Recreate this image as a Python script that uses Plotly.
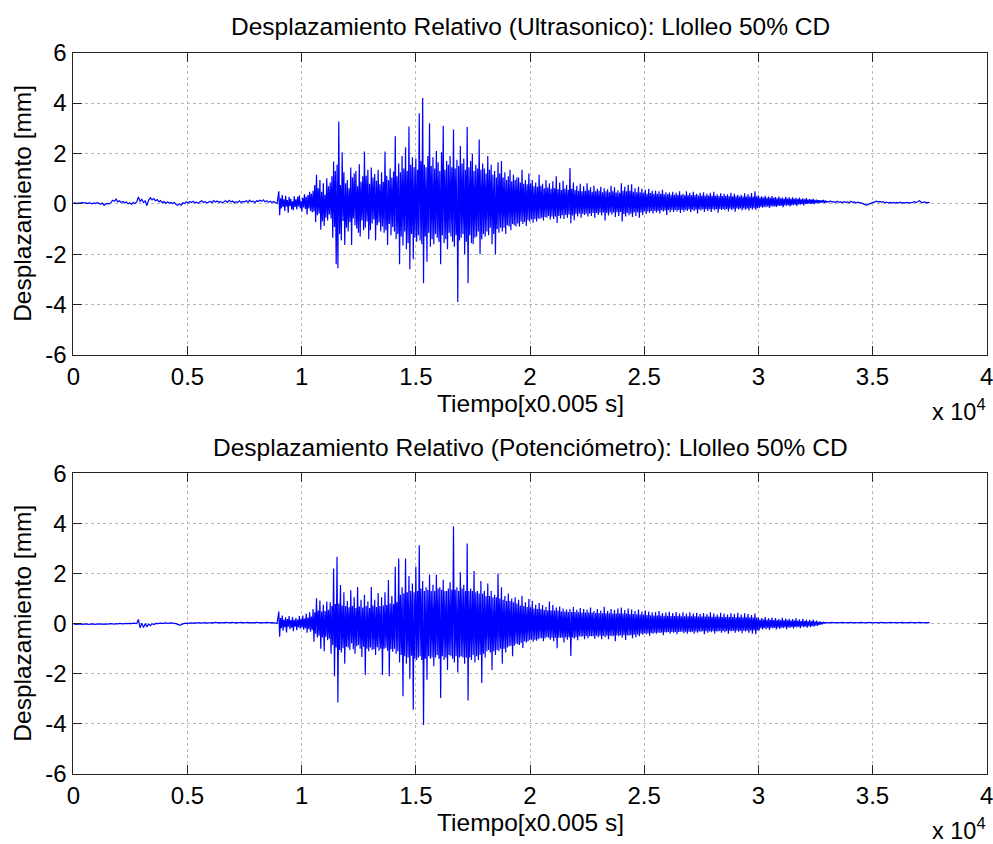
import numpy as np
import plotly.graph_objects as go

# Storage rates: quiet parts every 75 samples, strong-motion window every 37.5 samples
STEP_QUIET = 75
STEP_EVENT = 37.5
EVENT_START = 9000     # sample where the strong-motion window begins
POST_START = 33000     # sample where the quiet tail begins

# ---------------- Ultrasonic sensor: relative displacement [mm] ----------------
ultra_pre = [
    0.02, 0.05, 0.00, 0.04, 0.02, 0.06, 0.03, 0.05, 0.01, 0.04,
    0.03, 0.00, 0.04, 0.01, 0.05, 0.02, -0.02, 0.03, -0.06, -0.01,
    0.02, 0.00, 0.06, 0.14, 0.10, 0.19, 0.08, 0.12, 0.05, 0.09,
    0.04, 0.07, 0.00, 0.04, -0.02, 0.05, 0.01, 0.08, 0.27, 0.10,
    0.18, 0.05, 0.12, -0.07, 0.15, 0.24, 0.16, 0.21, 0.12, 0.17,
    0.08, 0.13, 0.04, 0.09, 0.02, 0.07, 0.03, 0.06, 0.01, 0.05,
    -0.03, -0.06, 0.00, -0.05, 0.04, 0.01, 0.08, 0.03, 0.09, 0.05,
    0.10, 0.04, 0.07, 0.02, 0.08, 0.12, 0.05, 0.09, 0.03, 0.07,
    0.10, 0.05, 0.13, 0.07, 0.11, 0.06, 0.09, 0.04, 0.08, 0.12,
    0.06, 0.14, 0.08, 0.11, 0.04, 0.09, 0.06, 0.12, 0.05, 0.10,
    0.07, 0.13, 0.06, 0.15, 0.08, 0.11, 0.05, 0.12, 0.09, 0.14,
    0.10, 0.16, 0.08, 0.12, 0.06, 0.10, 0.05, 0.09, 0.04, 0.02,
]
ultra_event = [
    0.50, -0.45, 0.22, -0.18, 0.35, -0.12, 0.18, -0.28, 0.32, -0.10, 0.15, -0.35, 0.28, -0.08, 0.20, -0.22, 0.10, -0.25, 0.30, -0.12,
    0.18, -0.22, 0.28, -0.10, 0.34, -0.18, 0.12, -0.30, 0.24, -0.14, 0.38, -0.20, 0.28, -0.42, 0.35, -0.18, 0.48, -0.28, 0.40, -0.34,
    0.52, -0.30, 0.75, -0.72, 1.15, -0.45, 0.62, -0.38, 0.95, -1.03, 0.48, -0.70, 0.82, -0.88, 0.36, -0.55, 1.02, -0.66, 0.70, -0.42,
    0.85, -0.58, 1.10, -1.35, 1.68, -0.92, 1.30, -2.40, 1.55, -2.56, 3.27, -1.20, 0.75, -1.45, 2.05, -0.68, 1.25, -1.63, 0.82, -0.95,
    0.95, -1.10, 0.62, -0.72, 1.44, -1.63, 1.05, -0.58, 1.20, -0.85, 1.30, -0.98, 0.70, -1.15, 1.57, -1.30, 0.88, -0.66, 1.10, -1.05,
    2.08, -0.95, 1.12, -0.70, 1.35, -1.40, 0.80, -1.05, 1.44, -0.78, 1.05, -0.62, 1.18, -1.45, 0.92, -0.85, 1.35, -0.74, 0.78, -1.10,
    1.25, -0.90, 0.88, -1.15, 2.08, -1.05, 1.12, -1.63, 0.95, -0.80, 1.40, -1.25, 1.05, -0.92, 1.28, -1.10, 2.68, -1.40, 1.10, -1.20,
    1.60, -2.40, 1.25, -1.30, 1.90, -1.65, 1.40, -1.10, 2.25, -1.80, 1.30, -1.55, 3.07, -2.60, 1.55, -1.20, 1.85, -2.20, 1.45, -1.35,
    1.80, -1.50, 1.35, -1.25, 3.60, -1.45, 1.70, -1.60, 4.20, -3.15, 1.55, -1.30, 1.45, -2.30, 1.90, -1.15, 3.20, -1.70, 1.50, -1.40,
    1.85, -1.60, 1.40, -1.20, 2.10, -1.35, 1.65, -1.50, 1.30, -2.40, 2.05, -1.25, 3.10, -1.55, 1.35, -1.40, 1.70, -1.80, 1.55, -1.15,
    1.90, -1.30, 1.45, -1.50, 2.95, -1.70, 1.40, -1.25, 1.75, -3.90, 1.50, -1.45, 2.30, -1.35, 1.60, -1.20, 1.80, -2.00, 1.35, -1.50,
    3.05, -3.15, 1.45, -1.25, 1.70, -1.55, 2.00, -1.60, 1.30, -1.35, 1.55, -1.30, 1.40, -1.10, 2.55, -2.00, 1.35, -1.40, 1.60, -1.20,
    1.40, -1.30, 1.20, -1.10, 1.90, -1.25, 1.35, -0.95, 1.55, -1.60, 1.15, -1.20, 1.30, -2.00, 1.05, -1.00, 1.65, -1.15, 1.20, -0.95,
    1.70, -1.10, 1.05, -0.95, 1.25, -1.20, 0.95, -0.85, 1.10, -0.90, 1.35, -1.05, 0.90, -0.80, 1.15, -0.85, 0.95, -0.90, 1.05, -0.78,
    1.05, -0.90, 0.85, -0.70, 1.35, -0.80, 0.80, -0.72, 0.95, -0.88, 0.78, -0.65, 1.20, -0.70, 0.82, -0.62, 0.95, -0.75, 0.70, -0.60,
    0.85, -0.70, 0.68, -0.58, 1.15, -0.60, 0.72, -0.55, 0.80, -0.66, 0.62, -0.52, 0.95, -0.55, 0.65, -0.48, 0.82, -0.62, 0.60, -0.50,
    0.90, -0.60, 0.62, -0.50, 1.10, -0.76, 0.58, -0.48, 0.85, -0.58, 0.55, -0.45, 0.92, -0.60, 0.60, -0.44, 0.75, -0.55, 0.56, -0.42,
    1.42, -0.77, 0.60, -0.46, 0.85, -0.65, 0.55, -0.40, 0.72, -0.50, 0.52, -0.38, 0.80, -0.55, 0.50, -0.40, 0.70, -0.44, 0.52, -0.38,
    0.82, -0.50, 0.55, -0.38, 0.66, -0.48, 0.48, -0.36, 0.72, -0.55, 0.50, -0.36, 0.60, -0.44, 0.52, -0.35, 0.68, -0.46, 0.46, -0.34,
    0.62, -0.66, 0.50, -0.36, 0.58, -0.46, 0.46, -0.34, 0.72, -0.42, 0.50, -0.34, 0.66, -0.52, 0.45, -0.33, 0.54, -0.48, 0.44, -0.32,
    0.82, -0.70, 0.52, -0.40, 0.68, -0.50, 0.50, -0.36, 0.76, -0.45, 0.52, -0.38, 0.78, -0.52, 0.48, -0.34, 0.62, -0.48, 0.46, -0.33,
    0.68, -0.55, 0.46, -0.34, 0.60, -0.44, 0.44, -0.30, 0.56, -0.40, 0.40, -0.30, 0.60, -0.35, 0.43, -0.28, 0.52, -0.38, 0.40, -0.28,
    0.52, -0.34, 0.40, -0.28, 0.50, -0.38, 0.40, -0.25, 0.56, -0.30, 0.38, -0.26, 0.46, -0.44, 0.38, -0.24, 0.45, -0.33, 0.36, -0.24,
    0.48, -0.32, 0.36, -0.24, 0.44, -0.30, 0.36, -0.24, 0.50, -0.36, 0.35, -0.24, 0.40, -0.31, 0.34, -0.23, 0.50, -0.28, 0.35, -0.22,
    0.44, -0.32, 0.34, -0.23, 0.48, -0.28, 0.35, -0.22, 0.40, -0.38, 0.33, -0.22, 0.44, -0.26, 0.33, -0.21, 0.46, -0.32, 0.32, -0.21,
    0.40, -0.28, 0.33, -0.21, 0.44, -0.32, 0.32, -0.21, 0.48, -0.25, 0.32, -0.20, 0.38, -0.35, 0.31, -0.20, 0.42, -0.24, 0.31, -0.20,
    0.40, -0.25, 0.31, -0.20, 0.38, -0.30, 0.30, -0.19, 0.44, -0.24, 0.30, -0.19, 0.40, -0.31, 0.30, -0.18, 0.36, -0.22, 0.29, -0.18,
    0.36, -0.26, 0.29, -0.18, 0.42, -0.23, 0.29, -0.18, 0.38, -0.26, 0.29, -0.17, 0.43, -0.22, 0.28, -0.17, 0.50, -0.24, 0.30, -0.17,
    0.34, -0.17, 0.26, -0.12, 0.30, -0.15, 0.25, -0.11, 0.32, -0.13, 0.25, -0.10, 0.29, -0.16, 0.24, -0.09, 0.31, -0.11, 0.24, -0.09,
    0.27, -0.12, 0.22, -0.08, 0.29, -0.08, 0.22, -0.07, 0.25, -0.13, 0.21, -0.06, 0.28, -0.07, 0.21, -0.05, 0.26, -0.10, 0.20, -0.05,
    0.26, -0.05, 0.20, -0.03, 0.24, -0.08, 0.19, -0.02, 0.25, -0.03, 0.18, -0.01, 0.22, -0.06, 0.18, 0.00, 0.23, 0.00, 0.17, 0.01,
    0.19, 0.00, 0.17, 0.02, 0.20, -0.01, 0.16, 0.03, 0.17, 0.02, 0.15, 0.04, 0.15, 0.04, 0.14, 0.05, 0.16, 0.03, 0.13, 0.05,
]
ultra_post = [
    0.10, 0.06, 0.11, 0.07, 0.09, 0.05, 0.10, 0.06, 0.08, 0.05,
    0.09, 0.06, 0.08, 0.04, 0.10, 0.06, 0.08, 0.03, 0.07, 0.05,
    0.04, 0.01, -0.02, -0.05, -0.03, 0.00, 0.03, 0.06, 0.08, 0.11,
    0.07, 0.10, 0.06, 0.09, 0.04, 0.07, 0.03, 0.06, 0.04, 0.06,
    0.03, 0.06, 0.04, 0.07, 0.03, 0.05, 0.04, 0.06, 0.03, 0.05,
    0.06, 0.09, 0.05, 0.08, 0.12, 0.07, 0.05, 0.08, 0.04, 0.06,
    0.05,
]

# ---------------- Potentiometer: relative displacement [mm] ----------------
pot_pre = [
    -0.02, -0.01, -0.03, -0.02, -0.01, -0.03, -0.02, -0.01, -0.02, -0.03,
    -0.02, -0.01, -0.02, -0.03, -0.01, -0.02, -0.01, -0.02, -0.03, -0.01,
    -0.02, -0.01, 0.00, -0.01, -0.02, 0.00, -0.01, 0.01, 0.00, -0.01,
    0.00, 0.01, 0.00, 0.01, 0.00, 0.02, 0.01, 0.00, 0.17, -0.17,
    0.02, -0.15, 0.00, -0.12, -0.02, -0.08, 0.00, -0.04, 0.01, 0.00,
    0.01, 0.02, 0.01, 0.02, 0.03, 0.01, 0.02, 0.03, 0.02, 0.01,
    0.00, -0.03, -0.06, -0.04, -0.01, 0.01, 0.02, 0.01, 0.02, 0.03,
    0.02, 0.03, 0.02, 0.04, 0.03, 0.02, 0.03, 0.04, 0.02, 0.03,
    0.03, 0.04, 0.03, 0.05, 0.04, 0.03, 0.04, 0.03, 0.04, 0.05,
    0.04, 0.03, 0.04, 0.05, 0.03, 0.04, 0.03, 0.04, 0.05, 0.04,
    0.03, 0.04, 0.05, 0.03, 0.04, 0.03, 0.04, 0.05, 0.04, 0.03,
    0.04, 0.03, 0.04, 0.05, 0.04, 0.03, 0.04, 0.03, 0.02, 0.01,
]
pot_event = [
    0.48, -0.52, 0.22, -0.18, 0.32, -0.28, 0.16, -0.14, 0.25, -0.35, 0.18, -0.12, 0.30, -0.22, 0.14, -0.16, 0.26, -0.30, 0.15, -0.12,
    0.22, -0.26, 0.16, -0.14, 0.30, -0.20, 0.18, -0.16, 0.32, -0.24, 0.20, -0.18, 0.40, -0.36, 0.24, -0.22, 0.45, -0.32, 0.28, -0.25,
    0.58, -0.72, 0.45, -0.40, 1.01, -0.55, 0.52, -0.48, 0.92, -1.00, 0.48, -0.55, 0.75, -1.10, 0.50, -0.52, 0.88, -0.66, 0.55, -0.60,
    0.85, -1.20, 0.70, -0.85, 2.20, -2.10, 0.78, -0.95, 2.67, -3.15, 0.80, -1.05, 1.54, -1.15, 0.72, -0.98, 1.25, -1.60, 0.70, -0.92,
    0.90, -0.95, 0.65, -1.05, 1.33, -0.78, 0.70, -1.02, 1.05, -1.20, 0.62, -0.90, 1.46, -0.85, 0.68, -1.00, 0.95, -1.33, 0.64, -0.92,
    1.15, -2.05, 0.70, -1.00, 0.88, -1.10, 0.62, -0.95, 1.46, -1.05, 0.72, -1.02, 0.95, -1.25, 0.66, -0.94, 1.22, -1.08, 0.70, -1.00,
    1.05, -2.05, 0.72, -1.00, 1.25, -0.96, 0.74, -1.08, 1.74, -2.10, 0.80, -1.02, 1.10, -1.12, 0.78, -1.00, 2.27, -1.20, 0.85, -1.10,
    2.60, -1.55, 1.15, -1.25, 1.45, -2.90, 1.20, -1.30, 2.60, -1.60, 1.25, -1.35, 1.90, -2.20, 1.30, -1.28, 1.60, -3.44, 1.25, -1.40,
    2.27, -1.45, 1.30, -1.35, 3.13, -1.30, 1.40, -1.45, 1.70, -4.04, 1.30, -1.40, 1.45, -2.24, 1.35, -1.30, 1.95, -1.40, 1.30, -1.35,
    1.55, -1.70, 1.30, -1.35, 1.95, -1.25, 1.40, -1.40, 1.45, -2.97, 1.35, -1.30, 1.75, -1.45, 1.30, -1.35, 1.30, -1.85, 1.40, -1.25,
    1.65, -1.30, 1.35, -1.40, 3.89, -1.55, 1.35, -1.30, 1.45, -1.95, 1.30, -1.35, 2.05, -1.30, 1.40, -1.35, 1.55, -1.60, 1.30, -1.35,
    3.20, -3.07, 1.30, -1.35, 1.40, -1.45, 1.30, -1.25, 2.10, -1.55, 1.25, -1.30, 1.30, -1.45, 1.20, -1.25, 1.70, -2.37, 1.20, -1.20,
    1.30, -1.35, 1.10, -1.10, 1.60, -1.05, 1.10, -1.15, 1.30, -1.85, 1.05, -1.10, 1.15, -1.25, 1.05, -1.05, 2.00, -1.10, 1.00, -1.00,
    1.45, -1.60, 0.95, -1.00, 1.10, -1.15, 0.90, -0.95, 1.20, -0.90, 0.90, -0.88, 1.00, -1.30, 0.85, -0.88, 1.05, -0.80, 0.80, -0.82,
    0.95, -0.85, 0.72, -0.76, 1.11, -0.97, 0.70, -0.70, 0.85, -0.75, 0.66, -0.70, 0.98, -0.66, 0.65, -0.64, 0.90, -0.72, 0.60, -0.64,
    0.75, -0.68, 0.58, -0.62, 0.82, -0.58, 0.58, -0.58, 0.74, -0.70, 0.54, -0.58, 0.66, -0.54, 0.52, -0.56, 0.88, -0.64, 0.52, -0.56,
    0.74, -0.70, 0.52, -0.56, 0.64, -0.98, 0.52, -0.56, 0.68, -0.56, 0.48, -0.56, 0.60, -0.75, 0.48, -0.55, 0.56, -0.64, 0.46, -0.54,
    0.58, -1.29, 0.46, -0.55, 0.66, -0.60, 0.46, -0.54, 0.55, -0.66, 0.45, -0.50, 0.62, -0.52, 0.44, -0.50, 0.58, -0.62, 0.44, -0.50,
    0.55, -0.58, 0.44, -0.50, 0.64, -0.50, 0.43, -0.50, 0.50, -0.60, 0.42, -0.48, 0.58, -0.54, 0.42, -0.48, 0.52, -0.62, 0.41, -0.48,
    0.67, -0.54, 0.41, -0.48, 0.50, -0.62, 0.41, -0.48, 0.58, -0.50, 0.40, -0.48, 0.54, -0.70, 0.40, -0.46, 0.60, -0.50, 0.40, -0.46,
    0.64, -0.56, 0.40, -0.46, 0.54, -0.65, 0.40, -0.46, 0.60, -0.48, 0.38, -0.45, 0.56, -0.58, 0.38, -0.44, 0.50, -0.54, 0.37, -0.43,
    0.56, -0.50, 0.36, -0.40, 0.48, -0.44, 0.36, -0.38, 0.52, -0.42, 0.34, -0.38, 0.48, -0.48, 0.33, -0.37, 0.45, -0.40, 0.32, -0.36,
    0.46, -0.40, 0.32, -0.35, 0.50, -0.37, 0.32, -0.35, 0.42, -0.46, 0.31, -0.34, 0.44, -0.35, 0.31, -0.33, 0.47, -0.40, 0.30, -0.33,
    0.42, -0.36, 0.30, -0.33, 0.46, -0.42, 0.30, -0.33, 0.40, -0.32, 0.29, -0.32, 0.45, -0.38, 0.29, -0.32, 0.40, -0.40, 0.29, -0.32,
    0.45, -0.34, 0.29, -0.32, 0.40, -0.40, 0.29, -0.31, 0.43, -0.36, 0.28, -0.31, 0.38, -0.32, 0.28, -0.30, 0.42, -0.42, 0.28, -0.30,
    0.38, -0.36, 0.28, -0.30, 0.45, -0.34, 0.27, -0.30, 0.40, -0.39, 0.27, -0.30, 0.36, -0.31, 0.27, -0.29, 0.43, -0.36, 0.26, -0.29,
    0.40, -0.34, 0.26, -0.29, 0.36, -0.40, 0.26, -0.29, 0.41, -0.30, 0.26, -0.28, 0.38, -0.36, 0.25, -0.28, 0.43, -0.32, 0.25, -0.28,
    0.36, -0.38, 0.25, -0.28, 0.41, -0.31, 0.25, -0.28, 0.38, -0.36, 0.24, -0.27, 0.34, -0.40, 0.24, -0.27, 0.40, -0.42, 0.23, -0.26,
    0.25, -0.27, 0.16, -0.18, 0.22, -0.23, 0.16, -0.17, 0.26, -0.22, 0.15, -0.17, 0.21, -0.25, 0.15, -0.16, 0.24, -0.19, 0.14, -0.16,
    0.22, -0.23, 0.14, -0.16, 0.18, -0.21, 0.13, -0.15, 0.23, -0.18, 0.13, -0.14, 0.20, -0.22, 0.13, -0.14, 0.19, -0.17, 0.12, -0.13,
    0.18, -0.19, 0.12, -0.13, 0.21, -0.15, 0.11, -0.12, 0.17, -0.18, 0.10, -0.11, 0.19, -0.14, 0.10, -0.11, 0.15, -0.16, 0.09, -0.10,
    0.15, -0.14, 0.09, -0.09, 0.16, -0.12, 0.08, -0.07, 0.12, -0.09, 0.07, -0.05, 0.09, -0.04, 0.06, -0.02, 0.07, 0.02, 0.05, 0.03,
]
pot_post = [
    0.04, 0.03, 0.04, 0.05, 0.03, 0.04, 0.04, 0.03, 0.04, 0.05,
    0.04, 0.03, 0.04, 0.04, 0.05, 0.03, 0.04, 0.04, 0.03, 0.04,
    0.05, 0.04, 0.03, 0.04, 0.04, 0.05, 0.04, 0.03, 0.04, 0.04,
    0.03, 0.04, 0.05, 0.04, 0.04, 0.03, 0.04, 0.05, 0.04, 0.04,
    0.04, 0.03, 0.04, 0.04, 0.05, 0.04, 0.03, 0.04, 0.04, 0.05,
    0.04, 0.04, 0.03, 0.04, 0.05, 0.04, 0.04, 0.03, 0.04, 0.04,
    0.04,
]

titulos = [
    "Desplazamiento Relativo (Ultrasonico): Llolleo 50% CD",
    "Desplazamiento Relativo (Potenciómetro): Llolleo 50% CD",
]
x_tickvals = [0, 5000, 10000, 15000, 20000, 25000, 30000, 35000, 40000]
x_ticktext = ["0", "0.5", "1", "1.5", "2", "2.5", "3", "3.5", "4"]
y_tickvals = [-6, -4, -2, 0, 2, 4, 6]
y_ticktext = ["-6", "-4", "-2", "0", "2", "4", "6"]


def build_record(pre, event, post):
    """Join the three stored segments onto one sample axis."""
    t = np.concatenate([
        np.arange(len(pre)) * STEP_QUIET,
        EVENT_START + np.arange(len(event)) * STEP_EVENT,
        POST_START + np.arange(len(post)) * STEP_QUIET,
    ])
    return t, np.array(pre + event + post)


t_ultra, y_ultra = build_record(ultra_pre, ultra_event, ultra_post)
t_pot, y_pot = build_record(pot_pre, pot_event, pot_post)

W, H = 993, 844
FONT = "Liberation Sans, Arial, Helvetica, sans-serif"
AXIS_COLOR = "#262626"
GRID_COLOR = "#b8b8b8"

fig = go.Figure()
fig.add_trace(go.Scatter(x=t_ultra, y=y_ultra, mode="lines",
                         line=dict(color="#0000ff", width=1.2, simplify=False),
                         xaxis="x", yaxis="y", showlegend=False))
fig.add_trace(go.Scatter(x=t_pot, y=y_pot, mode="lines",
                         line=dict(color="#0000ff", width=1.2, simplify=False),
                         xaxis="x2", yaxis="y2", showlegend=False))

# plot areas in pixels
x_px = (73.3, 986.7)
top_px = (52.7, 355.0)
bot_px = (473.3, 774.0)


def px_x(p):
    return p / W


def px_y(p):
    return 1 - p / H


xdom = [px_x(x_px[0]), px_x(x_px[1])]


def common_axis():
    return dict(ticks="inside", ticklen=9, tickwidth=1, tickcolor=AXIS_COLOR,
                showline=True, linecolor=AXIS_COLOR, linewidth=1, mirror="ticks",
                showgrid=True, gridcolor=GRID_COLOR, gridwidth=1, griddash="dot",
                zeroline=False, automargin=False, fixedrange=True,
                ticklabeloverflow="allow",
                tickfont=dict(family=FONT, size=24, color="#000000"))


def xaxis_style(anchor):
    d = common_axis()
    d.update(domain=xdom, anchor=anchor, range=[0, 40000],
             tickmode="array", tickvals=x_tickvals, ticktext=x_ticktext,
             ticklabelstandoff=0)
    return d


def yaxis_style(anchor, dom):
    d = common_axis()
    d.update(domain=dom, anchor=anchor, range=[-6, 6],
             tickmode="array", tickvals=y_tickvals, ticktext=y_ticktext,
             ticklabelstandoff=1)
    return d


annotations = []
cx = px_x((x_px[0] + x_px[1]) / 2)
for title, (ptop, pbot) in zip(titulos, [top_px, bot_px]):
    annotations.append(dict(text=title, x=cx, y=px_y(ptop - 26), xref="paper", yref="paper",
                            xanchor="center", yanchor="middle", showarrow=False,
                            font=dict(family=FONT, size=24.5, color="#000000")))
    annotations.append(dict(text="Tiempo[x0.005 s]", x=cx, y=px_y(pbot + 48), xref="paper",
                            yref="paper", xanchor="center", yanchor="middle", showarrow=False,
                            font=dict(family=FONT, size=24.5, color="#000000")))
    annotations.append(dict(text="Desplazamiento [mm]", x=px_x(23), y=px_y((ptop + pbot) / 2),
                            xref="paper", yref="paper", xanchor="center", yanchor="middle",
                            textangle=-90, showarrow=False,
                            font=dict(family=FONT, size=24.5, color="#000000")))
    annotations.append(dict(text="x 10<sup>4</sup>", x=px_x(988), y=px_y(pbot + 55),
                            xref="paper", yref="paper", xanchor="right", yanchor="middle",
                            showarrow=False,
                            font=dict(family=FONT, size=23.5, color="#000000")))

fig.update_layout(
    width=W, height=H,
    margin=dict(l=0, r=0, t=0, b=0, pad=0),
    paper_bgcolor="#ffffff", plot_bgcolor="#ffffff",
    xaxis=xaxis_style("y"),
    yaxis=yaxis_style("x", [px_y(top_px[1]), px_y(top_px[0])]),
    xaxis2=xaxis_style("y2"),
    yaxis2=yaxis_style("x2", [px_y(bot_px[1]), px_y(bot_px[0])]),
    annotations=annotations,
    showlegend=False,
)

fig.write_html("out.html")
